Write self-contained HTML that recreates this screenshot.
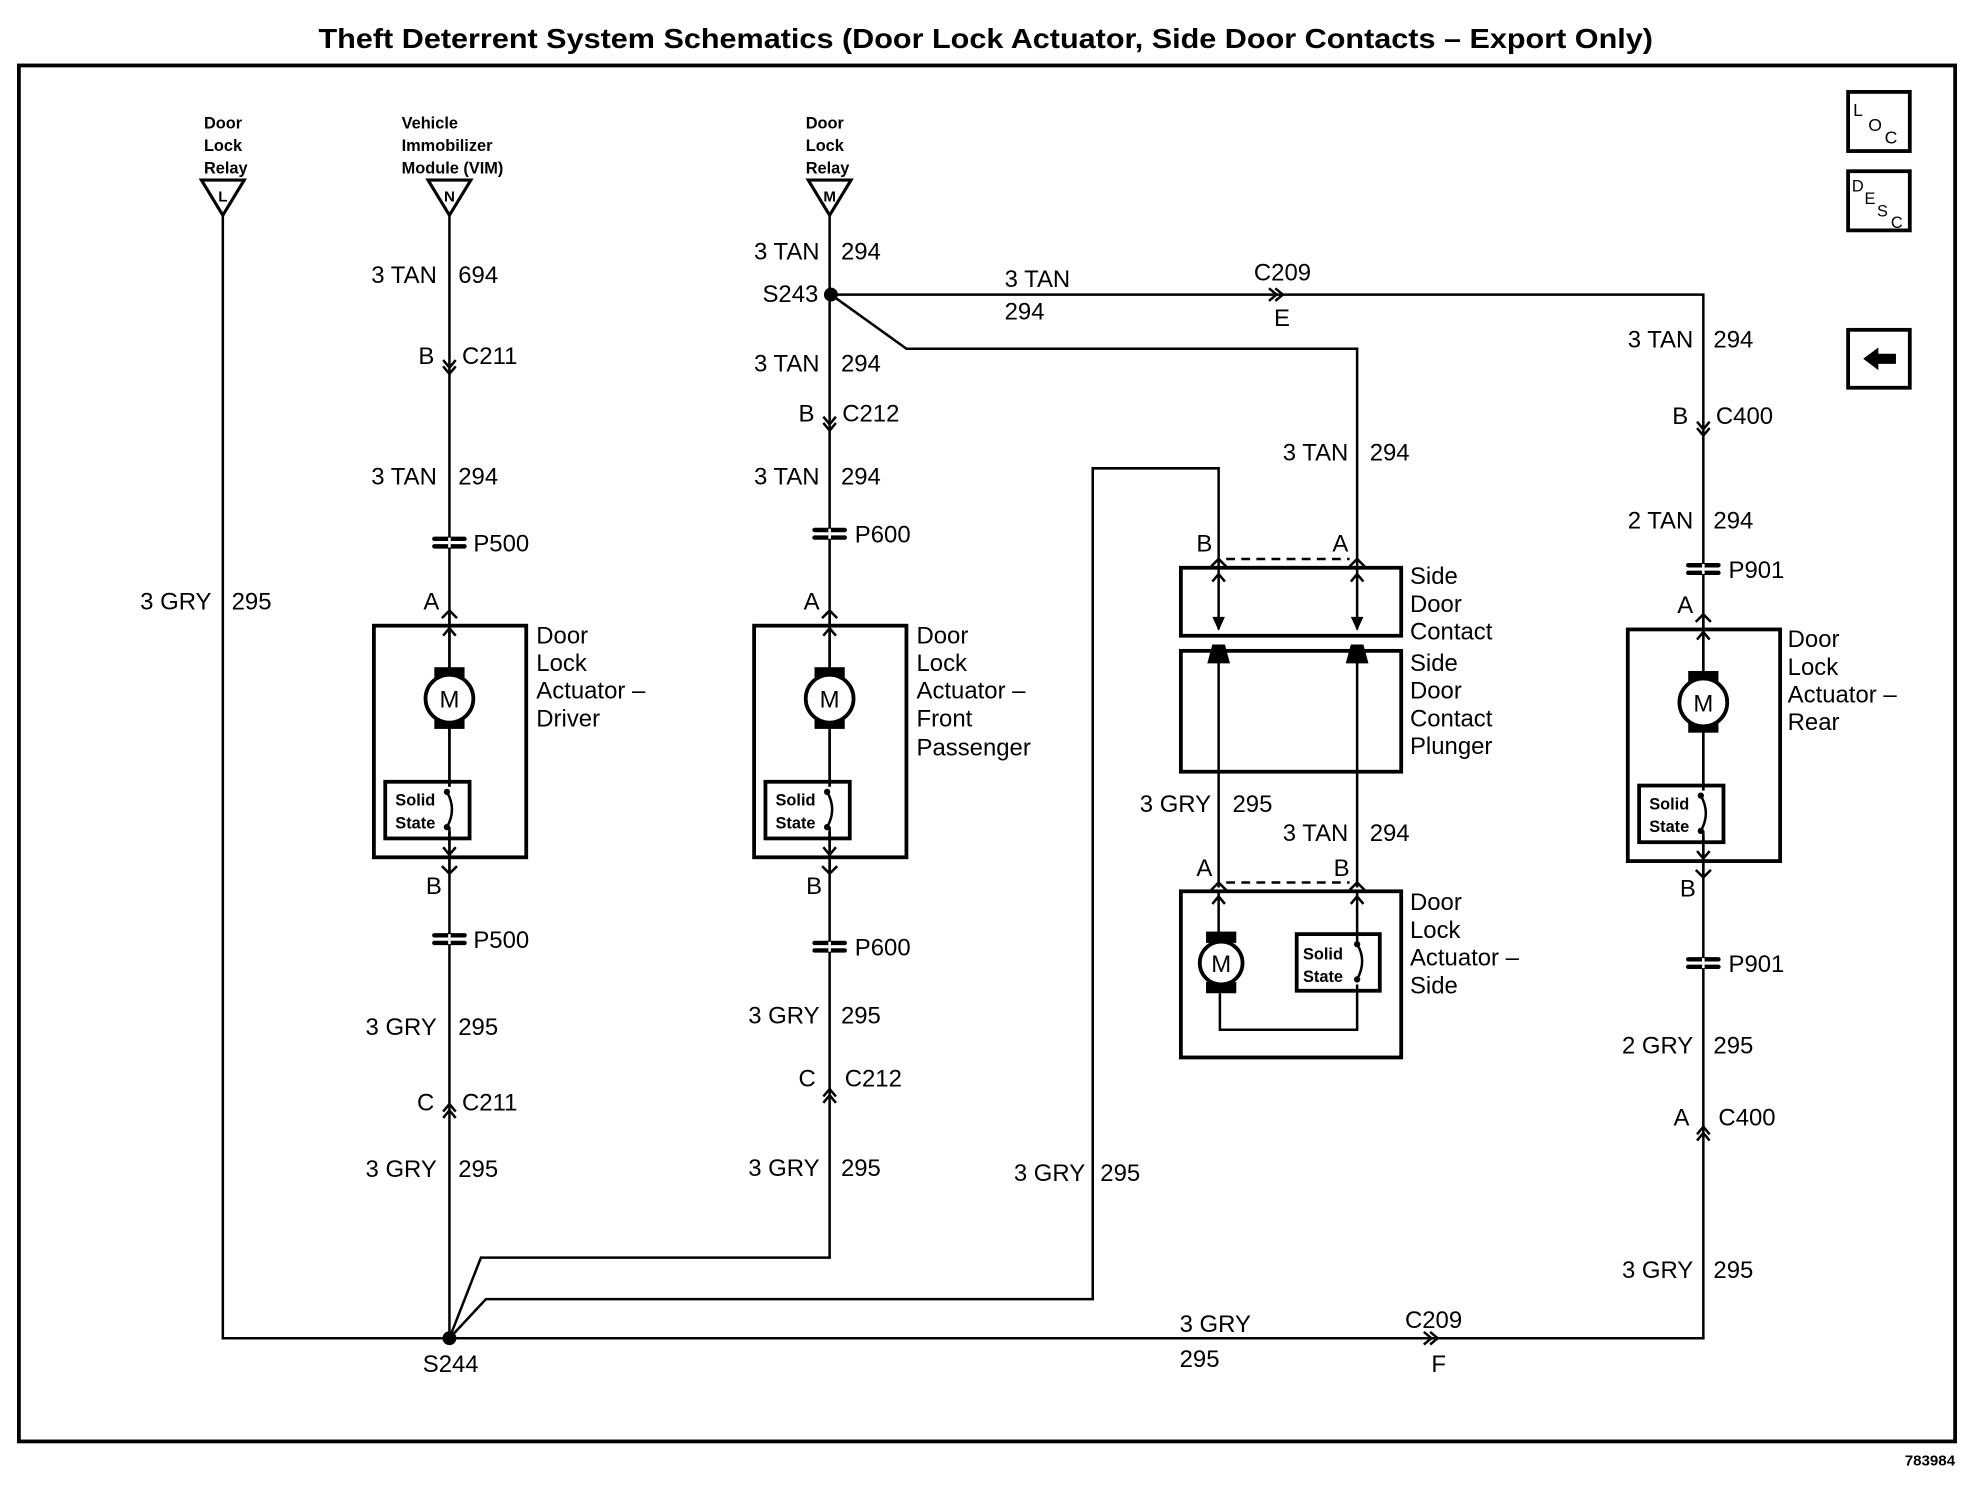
<!DOCTYPE html>
<html><head><meta charset="utf-8"><style>
html,body{margin:0;padding:0;background:#fff}
svg{display:block}
text{font-family:"Liberation Sans",sans-serif;fill:#000}
.l{font-size:19px}
.s{font-size:13px;font-weight:bold}
.w{stroke:#000;stroke-width:2;fill:none}
.b{stroke:#000;stroke-width:3;fill:none}
</style></head><body>
<svg width="1974" height="1504" viewBox="0 0 1568 1194.7" preserveAspectRatio="none" xmlns="http://www.w3.org/2000/svg">
<defs>
<g id="dn"><polyline class="w" points="-5,-6 0,0 5,-6"/><polyline class="w" points="-5,-1 0,5 5,-1"/></g>
<g id="up"><polyline class="w" points="-5,6 0,0 5,6"/><polyline class="w" points="-5,1 0,-5 5,1"/></g>
<g id="p"><line x1="-12" y1="-3" x2="12" y2="-3" stroke="#000" stroke-width="3.5" stroke-linecap="round"/><line x1="-12" y1="3" x2="12" y2="3" stroke="#000" stroke-width="3.5" stroke-linecap="round"/><rect x="-1" y="-4" width="2" height="8" fill="#fff"/></g>
<g id="fork"><polyline class="w" points="-6,6 0,0 6,6"/></g>
<g id="forkd"><polyline class="w" points="-6,-6 0,0 6,-6"/></g>
<g id="tri"><polygon points="-17,0 17,0 0,28" fill="#fff" stroke="#000" stroke-width="2.5"/></g>
<g id="act">
<rect x="-60" y="0" width="121" height="184" class="b"/>
<line class="w" x1="0" y1="-12" x2="0" y2="196"/>
<polyline class="w" points="-5,8 0,2 5,8"/>
<polyline class="w" points="-5,176 0,182 5,176"/>
<rect x="-12" y="33" width="24" height="11" fill="#000"/>
<rect x="-12" y="71" width="24" height="11" fill="#000"/>
<circle cx="0" cy="58" r="19" fill="#fff" stroke="#000" stroke-width="3"/>
<text x="0" y="65" font-size="19" text-anchor="middle">M</text>
<rect x="-51" y="124" width="67" height="45" class="b"/>
<rect x="-2" y="128" width="4" height="36" fill="#fff"/>
<path class="w" d="M-2,132 Q6,146 -2,160"/>
<circle cx="-2" cy="132" r="2.5"/><circle cx="-2" cy="160" r="2.5"/>
<line class="w" x1="0" y1="160" x2="0" y2="170"/>
<text x="-43" y="143" class="s">Solid</text><text x="-43" y="161" class="s">State</text>
</g>
</defs>
<text x="253" y="38" textLength="1060" lengthAdjust="spacingAndGlyphs" font-size="22" font-weight="bold">Theft Deterrent System Schematics (Door Lock Actuator, Side Door Contacts – Export Only)</text>
<rect x="15" y="52" width="1538" height="1093" fill="none" stroke="#000" stroke-width="3"/>
<text x="1553" y="1164" text-anchor="end" font-size="12" font-weight="bold">783984</text>
<!-- icons -->
<rect x="1468" y="73" width="49" height="47" class="b"/>
<text x="1472" y="92" font-size="14">L</text><text x="1484" y="104" font-size="14">O</text><text x="1497" y="114" font-size="14">C</text>
<rect x="1468" y="136" width="49" height="47" class="b"/>
<text x="1471" y="152" font-size="13">D</text><text x="1481" y="162" font-size="13">E</text><text x="1491" y="172" font-size="13">S</text><text x="1502" y="181" font-size="13">C</text>
<rect x="1468" y="262" width="49" height="46" class="b"/>
<polygon points="1480,285 1492,276 1492,281 1506,281 1506,289 1492,289 1492,294" fill="#000"/>

<!-- col1 -->
<text x="162" y="102" class="s">Door</text><text x="162" y="120" class="s">Lock</text><text x="162" y="138" class="s">Relay</text>
<use href="#tri" x="177" y="143"/><text x="177" y="160" font-size="12" font-weight="bold" text-anchor="middle">L</text>
<polyline class="w" points="177,171 177,1063 357,1063"/>
<text x="168" y="484" class="l" text-anchor="end">3 GRY</text><text x="184" y="484" class="l">295</text>

<!-- col2 -->
<text x="319" y="102" class="s">Vehicle</text><text x="319" y="120" class="s">Immobilizer</text><text x="319" y="138" class="s">Module (VIM)</text>
<use href="#tri" x="357" y="143"/><text x="357" y="160" font-size="12" font-weight="bold" text-anchor="middle">N</text>
<line class="w" x1="357" y1="171" x2="357" y2="1063"/>
<text x="347" y="225" class="l" text-anchor="end">3 TAN</text><text x="364" y="225" class="l">694</text>
<text x="345" y="289" class="l" text-anchor="end">B</text><use href="#dn" x="357" y="292"/><text x="367" y="289" class="l">C211</text>
<text x="347" y="385" class="l" text-anchor="end">3 TAN</text><text x="364" y="385" class="l">294</text>
<use href="#p" x="357" y="431"/><text x="376" y="438" class="l">P500</text>
<text x="349" y="484" class="l" text-anchor="end">A</text><use href="#fork" x="357" y="485"/>
<use href="#act" x="357" y="497"/>
<text x="426" y="511" class="l">Door</text><text x="426" y="533" class="l">Lock</text><text x="426" y="555" class="l">Actuator –</text><text x="426" y="577" class="l">Driver</text>
<use href="#forkd" x="357" y="694"/><text x="351" y="710" class="l" text-anchor="end">B</text>
<use href="#p" x="357" y="746"/><text x="376" y="753" class="l">P500</text>
<text x="347" y="822" class="l" text-anchor="end">3 GRY</text><text x="364" y="822" class="l">295</text>
<text x="345" y="882" class="l" text-anchor="end">C</text><use href="#up" x="357" y="882"/><text x="367" y="882" class="l">C211</text>
<text x="347" y="935" class="l" text-anchor="end">3 GRY</text><text x="364" y="935" class="l">295</text>
<circle cx="357" cy="1063" r="5.5" fill="#000"/>
<text x="358" y="1090" class="l" text-anchor="middle">S244</text>

<!-- col3 -->
<text x="640" y="102" class="s">Door</text><text x="640" y="120" class="s">Lock</text><text x="640" y="138" class="s">Relay</text>
<use href="#tri" x="659" y="143"/><text x="659" y="160" font-size="12" font-weight="bold" text-anchor="middle">M</text>
<line class="w" x1="659" y1="171" x2="659" y2="999"/>
<text x="651" y="206" class="l" text-anchor="end">3 TAN</text><text x="668" y="206" class="l">294</text>
<circle cx="660" cy="234" r="5.5" fill="#000"/><text x="650" y="240" class="l" text-anchor="end">S243</text>
<text x="651" y="295" class="l" text-anchor="end">3 TAN</text><text x="668" y="295" class="l">294</text>
<text x="647" y="335" class="l" text-anchor="end">B</text><use href="#dn" x="659" y="337"/><text x="669" y="335" class="l">C212</text>
<text x="651" y="385" class="l" text-anchor="end">3 TAN</text><text x="668" y="385" class="l">294</text>
<use href="#p" x="659" y="424"/><text x="679" y="431" class="l">P600</text>
<text x="651" y="484" class="l" text-anchor="end">A</text><use href="#fork" x="659" y="485"/>
<use href="#act" x="659" y="497"/>
<text x="728" y="511" class="l">Door</text><text x="728" y="533" class="l">Lock</text><text x="728" y="555" class="l">Actuator –</text><text x="728" y="577" class="l">Front</text><text x="728" y="600" class="l">Passenger</text>
<use href="#forkd" x="659" y="694"/><text x="653" y="710" class="l" text-anchor="end">B</text>
<use href="#p" x="659" y="752"/><text x="679" y="759" class="l">P600</text>
<text x="651" y="813" class="l" text-anchor="end">3 GRY</text><text x="668" y="813" class="l">295</text>
<text x="648" y="863" class="l" text-anchor="end">C</text><use href="#up" x="659" y="870"/><text x="671" y="863" class="l">C212</text>
<text x="651" y="934" class="l" text-anchor="end">3 GRY</text><text x="668" y="934" class="l">295</text>
<polyline class="w" points="357,1063 382,999 660,999"/>
<polyline class="w" points="357,1063 386,1032 868,1032 868,372 968,372 968,450"/>
<text x="862" y="938" class="l" text-anchor="end">3 GRY</text><text x="874" y="938" class="l">295</text>
<line class="w" x1="357" y1="1063" x2="1354" y2="1063"/>
<use href="#dn" x="1139" y="1061" transform="rotate(-90 1139 1063)"/>
<text x="937" y="1058" class="l">3 GRY</text><text x="937" y="1086" class="l">295</text>
<text x="1116" y="1055" class="l">C209</text><text x="1137" y="1090" class="l">F</text>

<!-- S243 branches -->
<polyline class="w" points="660,234 1353,234 1353,1063"/>
<use href="#dn" x="1016" y="232" transform="rotate(-90 1016 234)"/>
<text x="798" y="228" class="l">3 TAN</text><text x="798" y="254" class="l">294</text>
<text x="996" y="223" class="l">C209</text><text x="1012" y="259" class="l">E</text>
<polyline class="w" points="660,234 720,277 1078,277 1078,450"/>
<text x="1071" y="366" class="l" text-anchor="end">3 TAN</text><text x="1088" y="366" class="l">294</text>

<!-- side contact -->
<text x="963" y="438" class="l" text-anchor="end">B</text><text x="1071" y="438" class="l" text-anchor="end">A</text>
<use href="#fork" x="968" y="444"/><use href="#fork" x="1078" y="444"/>
<line x1="974" y1="444" x2="1072" y2="444" stroke="#000" stroke-width="2" stroke-dasharray="7,5"/>
<rect x="938" y="451" width="175" height="54" class="b"/>
<rect x="938" y="517" width="175" height="96" class="b"/>
<line class="w" x1="968" y1="452" x2="968" y2="500"/><line class="w" x1="1078" y1="452" x2="1078" y2="500"/>
<polyline class="w" points="963,462 968,456 973,462"/><polyline class="w" points="1073,462 1078,456 1083,462"/>
<polygon points="963,490 973,490 968,501" fill="#000"/><polygon points="1073,490 1083,490 1078,501" fill="#000"/>
<polygon points="963,512 973,512 977,527 959,527" fill="#000"/><polygon points="1073,512 1083,512 1087,527 1069,527" fill="#000"/>
<line class="w" x1="968" y1="520" x2="968" y2="705"/><line class="w" x1="1078" y1="520" x2="1078" y2="705"/>
<text x="1120" y="464" class="l">Side</text><text x="1120" y="486" class="l">Door</text><text x="1120" y="508" class="l">Contact</text>
<text x="1120" y="533" class="l">Side</text><text x="1120" y="555" class="l">Door</text><text x="1120" y="577" class="l">Contact</text><text x="1120" y="599" class="l">Plunger</text>
<text x="962" y="645" class="l" text-anchor="end">3 GRY</text><text x="979" y="645" class="l">295</text>
<text x="1071" y="668" class="l" text-anchor="end">3 TAN</text><text x="1088" y="668" class="l">294</text>
<text x="963" y="696" class="l" text-anchor="end">A</text><text x="1072" y="696" class="l" text-anchor="end">B</text>
<use href="#fork" x="968" y="701"/><use href="#fork" x="1078" y="701"/>
<line x1="974" y1="701" x2="1072" y2="701" stroke="#000" stroke-width="2" stroke-dasharray="7,5"/>
<rect x="938" y="708" width="175" height="132" class="b"/>
<polyline class="w" points="963,718 968,712 973,718"/><polyline class="w" points="1073,718 1078,712 1083,718"/>
<line class="w" x1="968" y1="709" x2="968" y2="745"/>
<rect x="958" y="740" width="24" height="9" fill="#000"/><rect x="958" y="780" width="24" height="9" fill="#000"/>
<circle cx="970" cy="765" r="17" fill="#fff" stroke="#000" stroke-width="3"/>
<text x="970" y="772" font-size="19" text-anchor="middle">M</text>
<polyline class="w" points="969,789 969,818 1078,818 1078,782"/>
<line class="w" x1="1078" y1="709" x2="1078" y2="750"/>
<rect x="1030" y="742" width="66" height="45" class="b"/>
<path class="w" d="M1078,750 Q1086,763 1078,778"/><circle cx="1078" cy="750" r="2.5"/><circle cx="1078" cy="778" r="2.5"/>
<text x="1035" y="762" class="s">Solid</text><text x="1035" y="780" class="s">State</text>
<text x="1120" y="723" class="l">Door</text><text x="1120" y="745" class="l">Lock</text><text x="1120" y="767" class="l">Actuator –</text><text x="1120" y="789" class="l">Side</text>

<!-- rear -->
<text x="1345" y="276" class="l" text-anchor="end">3 TAN</text><text x="1361" y="276" class="l">294</text>
<text x="1341" y="337" class="l" text-anchor="end">B</text><use href="#dn" x="1353" y="341"/><text x="1363" y="337" class="l">C400</text>
<text x="1345" y="420" class="l" text-anchor="end">2 TAN</text><text x="1361" y="420" class="l">294</text>
<use href="#p" x="1353" y="452"/><text x="1373" y="459" class="l">P901</text>
<text x="1345" y="487" class="l" text-anchor="end">A</text><use href="#fork" x="1353" y="488"/>
<use href="#act" x="1353" y="500"/>
<text x="1420" y="514" class="l">Door</text><text x="1420" y="536" class="l">Lock</text><text x="1420" y="558" class="l">Actuator –</text><text x="1420" y="580" class="l">Rear</text>
<use href="#forkd" x="1353" y="697"/><text x="1347" y="712" class="l" text-anchor="end">B</text>
<use href="#p" x="1353" y="765"/><text x="1373" y="772" class="l">P901</text>
<text x="1345" y="837" class="l" text-anchor="end">2 GRY</text><text x="1361" y="837" class="l">295</text>
<text x="1342" y="894" class="l" text-anchor="end">A</text><use href="#up" x="1353" y="900"/><text x="1365" y="894" class="l">C400</text>
<text x="1345" y="1015" class="l" text-anchor="end">3 GRY</text><text x="1361" y="1015" class="l">295</text>
</svg>
</body></html>
